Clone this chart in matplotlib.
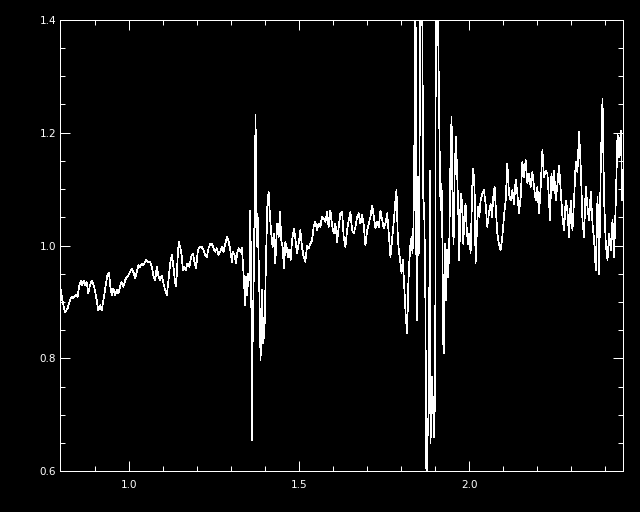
import matplotlib
matplotlib.use("Agg")
import matplotlib.pyplot as plt
from matplotlib.ticker import MultipleLocator

# spectrum (wavelength in micron, normalised flux)
wavelength = [
    0.8015, 0.8053, 0.8132, 0.8212, 0.8279, 0.8329, 0.8376, 0.8447, 0.8506, 0.8544,
    0.8603, 0.8641, 0.8682, 0.8721, 0.8771, 0.8818, 0.8868, 0.8918, 0.8994, 0.9065,
    0.9112, 0.9162, 0.9212, 0.9259, 0.9309, 0.9376, 0.9426, 0.9465, 0.9506, 0.9553,
    0.9603, 0.9653, 0.9700, 0.9759, 0.9800, 0.9847, 0.9897, 0.9947, 0.9994, 1.0044,
    1.0094, 1.0141, 1.0191, 1.0241, 1.0288, 1.0338, 1.0388, 1.0435, 1.0506, 1.0582,
    1.0632, 1.0682, 1.0729, 1.0779, 1.0829, 1.0876, 1.0926, 1.0976, 1.1024, 1.1074,
    1.1124, 1.1171, 1.1221, 1.1271, 1.1318, 1.1368, 1.1397, 1.1447, 1.1476, 1.1524,
    1.1565, 1.1594, 1.1632, 1.1682, 1.1729, 1.1788, 1.1838, 1.1888, 1.1935, 1.1985,
    1.2035, 1.2082, 1.2153, 1.2200, 1.2250, 1.2300, 1.2347, 1.2397, 1.2447, 1.2494,
    1.2544, 1.2594, 1.2641, 1.2691, 1.2741, 1.2788, 1.2838, 1.2888, 1.2935, 1.2985,
    1.3035, 1.3065, 1.3112, 1.3153, 1.3191, 1.3229, 1.3279, 1.3329, 1.3376, 1.3406,
    1.3426, 1.3456, 1.3485, 1.3515, 1.3544, 1.3574, 1.3603, 1.3624, 1.3641, 1.3671,
    1.3700, 1.3729, 1.3756, 1.3788, 1.3838, 1.3876, 1.3918, 1.3956, 1.3994, 1.4035,
    1.4074, 1.4112, 1.4153, 1.4191, 1.4229, 1.4271, 1.4309, 1.4359, 1.4406, 1.4447,
    1.4485, 1.4524, 1.4565, 1.4603, 1.4641, 1.4682, 1.4721, 1.4759, 1.4800, 1.4859,
    1.4897, 1.4947, 1.4994, 1.5044, 1.5094, 1.5141, 1.5191, 1.5241, 1.5288, 1.5338,
    1.5388, 1.5435, 1.5485, 1.5535, 1.5582, 1.5632, 1.5682, 1.5729, 1.5779, 1.5829,
    1.5876, 1.5926, 1.5976, 1.6024, 1.6074, 1.6124, 1.6171, 1.6221, 1.6271, 1.6318,
    1.6368, 1.6418, 1.6465, 1.6515, 1.6565, 1.6612, 1.6662, 1.6712, 1.6759, 1.6809,
    1.6859, 1.6906, 1.6956, 1.7006, 1.7053, 1.7103, 1.7153, 1.7200, 1.7250, 1.7300,
    1.7347, 1.7397, 1.7447, 1.7494, 1.7544, 1.7594, 1.7641, 1.7691, 1.7741, 1.7788,
    1.7838, 1.7868, 1.7906, 1.7935, 1.7985, 1.8015, 1.8053, 1.8082, 1.8112, 1.8141,
    1.8182, 1.8212, 1.8241, 1.8279, 1.8309, 1.8338, 1.8368, 1.8397, 1.8426, 1.8447,
    1.8476, 1.8506, 1.8535, 1.8574, 1.8618, 1.8653, 1.8682, 1.8712, 1.8750, 1.8788,
    1.8818, 1.8847, 1.8868, 1.8906, 1.8947, 1.8976, 1.9006, 1.9024, 1.9065, 1.9094,
    1.9132, 1.9162, 1.9191, 1.9212, 1.9241, 1.9259, 1.9288, 1.9318, 1.9359, 1.9388,
    1.9418, 1.9456, 1.9485, 1.9515, 1.9544, 1.9574, 1.9612, 1.9653, 1.9682, 1.9712,
    1.9741, 1.9771, 1.9800, 1.9829, 1.9868, 1.9897, 1.9926, 1.9965, 2.0006, 2.0044,
    2.0094, 2.0124, 2.0162, 2.0191, 2.0221, 2.0259, 2.0300, 2.0338, 2.0388, 2.0435,
    2.0485, 2.0535, 2.0582, 2.0632, 2.0671, 2.0712, 2.0750, 2.0788, 2.0829, 2.0876,
    2.0926, 2.0976, 2.1024, 2.1074, 2.1124, 2.1171, 2.1221, 2.1271, 2.1318, 2.1368,
    2.1418, 2.1465, 2.1515, 2.1565, 2.1612, 2.1662, 2.1712, 2.1759, 2.1809, 2.1859,
    2.1906, 2.1956, 2.2006, 2.2053, 2.2103, 2.2153, 2.2200, 2.2250, 2.2300, 2.2347,
    2.2376, 2.2418, 2.2456, 2.2494, 2.2544, 2.2594, 2.2641, 2.2691, 2.2741, 2.2788,
    2.2838, 2.2888, 2.2935, 2.2985, 2.3035, 2.3082, 2.3132, 2.3182, 2.3229, 2.3279,
    2.3329, 2.3376, 2.3426, 2.3476, 2.3524, 2.3574, 2.3624, 2.3671, 2.3721, 2.3771,
    2.3818, 2.3868, 2.3918, 2.3965, 2.4015, 2.4065, 2.4112, 2.4162, 2.4212, 2.4259,
    2.4309, 2.4359, 2.4406, 2.4456, 2.4500,
]
flux = [
    0.921, 0.903, 0.882, 0.889, 0.903, 0.909, 0.907, 0.912, 0.909, 0.928,
    0.938, 0.930, 0.938, 0.930, 0.935, 0.915, 0.930, 0.938, 0.926, 0.903,
    0.885, 0.894, 0.885, 0.903, 0.921, 0.947, 0.951, 0.927, 0.912, 0.924,
    0.912, 0.921, 0.915, 0.930, 0.935, 0.927, 0.938, 0.944, 0.947, 0.953,
    0.959, 0.953, 0.942, 0.953, 0.965, 0.962, 0.968, 0.965, 0.974, 0.971,
    0.971, 0.962, 0.947, 0.938, 0.962, 0.947, 0.938, 0.947, 0.933, 0.921,
    0.912, 0.938, 0.969, 0.983, 0.962, 0.933, 0.928, 0.986, 1.006, 0.995,
    0.980, 0.956, 0.962, 0.956, 0.968, 0.962, 0.980, 0.986, 0.971, 0.960,
    0.992, 0.997, 0.997, 0.992, 0.983, 0.980, 0.995, 1.003, 1.003, 0.995,
    0.989, 0.995, 0.983, 0.989, 0.997, 0.989, 1.003, 1.015, 1.009, 0.992,
    0.971, 0.989, 0.983, 0.968, 0.986, 0.995, 0.989, 0.995, 0.950, 0.915,
    0.894, 0.944, 0.912, 0.950, 0.938, 1.062, 0.921, 0.655, 0.820, 0.927,
    1.059, 1.231, 0.999, 1.057, 0.927, 0.797, 0.921, 0.827, 0.856, 0.974,
    1.068, 1.095, 1.051, 1.021, 0.997, 1.021, 0.968, 1.039, 1.015, 1.059,
    1.009, 0.997, 0.959, 1.006, 0.997, 0.980, 0.992, 0.974, 1.009, 1.030,
    1.012, 0.986, 1.003, 1.027, 0.997, 0.980, 0.971, 1.000, 0.995, 1.003,
    1.009, 1.033, 1.042, 1.027, 1.039, 1.033, 1.051, 1.048, 1.042, 1.059,
    1.033, 1.062, 1.036, 1.021, 1.039, 1.006, 1.033, 1.057, 1.059, 1.015,
    0.997, 1.027, 1.045, 1.059, 1.027, 1.021, 1.033, 1.051, 1.057, 1.039,
    1.054, 1.036, 1.000, 1.027, 1.039, 1.051, 1.071, 1.051, 1.030, 1.042,
    1.033, 1.062, 1.045, 1.030, 1.039, 1.057, 1.021, 0.980, 1.012, 1.042,
    1.080, 1.098, 1.015, 0.992, 0.969, 0.951, 0.974, 0.944, 0.909, 0.873,
    0.845, 0.927, 0.968, 1.003, 1.015, 0.986, 1.039, 1.204, 1.500, 1.003,
    0.868, 1.121, 0.986, 1.600, 1.500, 1.086, 1.062, 0.944, 0.550, 0.679,
    0.708, 1.133, 0.650, 0.767, 0.708, 0.661, 0.767, 1.500, 1.450, 1.370,
    1.181, 1.062, 1.110, 1.033, 0.827, 0.809, 1.003, 0.903, 0.992, 0.944,
    1.003, 1.163, 1.228, 1.062, 1.003, 1.121, 1.192, 1.121, 1.062, 0.974,
    1.062, 1.092, 1.062, 1.003, 1.062, 1.074, 1.033, 1.003, 1.021, 0.986,
    1.104, 1.136, 1.098, 0.968, 1.015, 1.068, 1.051, 1.080, 1.092, 1.098,
    1.074, 1.033, 1.057, 1.074, 1.051, 1.086, 1.104, 1.062, 1.021, 1.003,
    0.992, 1.015, 1.051, 1.080, 1.145, 1.092, 1.080, 1.098, 1.074, 1.116,
    1.092, 1.057, 1.086, 1.148, 1.121, 1.151, 1.110, 1.127, 1.104, 1.130,
    1.104, 1.080, 1.104, 1.057, 1.104, 1.169, 1.121, 1.133, 1.127, 1.080,
    1.045, 1.127, 1.098, 1.133, 1.080, 1.107, 1.142, 1.098, 1.051, 1.027,
    1.080, 1.062, 1.015, 1.080, 1.027, 1.080, 1.148, 1.130, 1.201, 1.139,
    1.045, 1.015, 1.104, 1.068, 1.045, 1.095, 1.039, 1.009, 0.956, 1.086,
    0.950, 1.145, 1.260, 1.080, 1.003, 0.974, 1.021, 0.992, 1.045, 0.980,
    1.080, 1.198, 1.157, 1.204, 1.080,
]

x_range = (0.80, 2.451)
y_range = (0.6, 1.4)

fig = plt.figure(figsize=(6.4, 5.12), dpi=100, facecolor="black")
ax = fig.add_axes([0.0945, 0.0795, 0.8784, 0.882])
ax.set_facecolor("black")

# thin hard edged line, like an old IDL window dump
ax.plot(wavelength, flux, color="white", linewidth=0.5, antialiased=False)

ax.set_xlim(*x_range)
ax.set_ylim(*y_range)

# IDL style axes: white box, ticks pointing in on every side
for side in ax.spines.values():
    side.set_color("white")
    side.set_linewidth(0.72)
    side.set_antialiased(False)

ax.xaxis.set_major_locator(MultipleLocator(0.5))
ax.xaxis.set_minor_locator(MultipleLocator(0.1))
ax.yaxis.set_major_locator(MultipleLocator(0.2))
ax.yaxis.set_minor_locator(MultipleLocator(0.05))
ax.xaxis.set_major_formatter(plt.FormatStrFormatter("%.1f"))
ax.yaxis.set_major_formatter(plt.FormatStrFormatter("%.1f"))

ax.tick_params(which="both", direction="in", colors="white", top=True, right=True,
               width=0.72, labelsize=7.5)
ax.tick_params(which="major", length=7.2)
ax.tick_params(which="minor", length=3.6)
ax.tick_params(axis="x", which="major", pad=6)
ax.tick_params(axis="y", which="major", pad=3)

fig.savefig("out.png", dpi=100, facecolor="black")
